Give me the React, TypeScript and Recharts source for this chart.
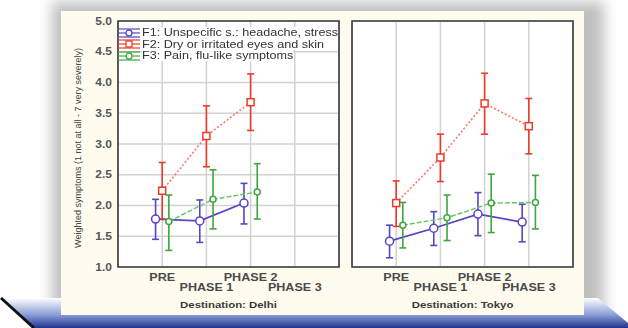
import React from "react";
import {
  ComposedChart,
  Line,
  XAxis,
  YAxis,
  CartesianGrid,
  ErrorBar,
  ReferenceArea,
  Legend,
} from "recharts";

const phases = ["PRE", "PHASE 1", "PHASE 2", "PHASE 3"];
const yTicks = [1.0, 1.5, 2.0, 2.5, 3.0, 3.5, 4.0, 4.5, 5.0];
const seriesNames = [
  "F1: Unspecific s.: headache, stress",
  "F2: Dry or irritated eyes and skin",
  "F3: Pain, flu-like symptoms",
];

// Delhi (no PHASE 3 measurement)
const delhiF1 = [1.78, 1.75, 2.04, null];
const delhiF1Low = [1.45, 1.4, 1.7, null];
const delhiF1High = [2.1, 2.09, 2.36, null];
const delhiF2 = [2.24, 3.13, 3.68, null];
const delhiF2Low = [1.78, 2.63, 3.22, null];
const delhiF2High = [2.7, 3.62, 4.14, null];
const delhiF3 = [1.74, 2.1, 2.22, null];
const delhiF3Low = [1.27, 1.62, 1.78, null];
const delhiF3High = [2.17, 2.58, 2.68, null];

// Tokyo
const tokyoF1 = [1.42, 1.63, 1.86, 1.73];
const tokyoF1Low = [1.15, 1.35, 1.51, 1.41];
const tokyoF1High = [1.68, 1.9, 2.21, 2.02];
const tokyoF2 = [2.04, 2.78, 3.66, 3.29];
const tokyoF2Low = [1.66, 2.39, 3.16, 2.84];
const tokyoF2High = [2.4, 3.16, 4.15, 3.74];
const tokyoF3 = [1.68, 1.8, 2.04, 2.05];
const tokyoF3Low = [1.31, 1.43, 1.56, 1.62];
const tokyoF3High = [2.05, 2.17, 2.51, 2.49];

const FONT = "'Liberation Sans', Arial, sans-serif";
const STRETCH = 1.2;

type Pt = { x: number; y: number; err: [number, number] };

function toPoints(
  mean: (number | null)[],
  low: (number | null)[],
  high: (number | null)[],
  shift: number
): Pt[] {
  const out: Pt[] = [];
  mean.forEach((v, i) => {
    if (v == null) return;
    out.push({
      x: i + 1 + shift,
      y: v,
      err: [+(v - (low[i] as number)).toFixed(2), +((high[i] as number) - v).toFixed(2)],
    });
  });
  return out;
}

const styles = [
  { color: "#5645c4", line: "#5645c4", dash: undefined, width: 1.8, shift: -0.15, marker: "circle", r: 4 },
  { color: "#ee3a28", line: "#ff7468", dash: "2 2", width: 1.6, shift: 0, marker: "square", r: 3.5 },
  { color: "#3ea63e", line: "#62c462", dash: "5 2", width: 1.4, shift: 0.15, marker: "circle", r: 3 },
];

function makeDot(s: (typeof styles)[number]) {
  return (p: any) => {
    const { cx, cy } = p;
    if (cx == null || cy == null) return <g key={`n-${p.index}`} />;
    if (s.marker === "square")
      return (
        <rect
          key={`d-${p.index}`}
          x={cx - s.r}
          y={cy - s.r}
          width={s.r * 2}
          height={s.r * 2}
          fill="#fff"
          stroke={s.color}
          strokeWidth={1.5}
        />
      );
    return <circle key={`d-${p.index}`} cx={cx} cy={cy} r={s.r} fill="#fff" stroke={s.color} strokeWidth={1.5} />;
  };
}

const PhaseTick = (props: any) => {
  const { x, y, payload } = props;
  const idx = Math.round(payload.value) - 1;
  const row = idx % 2;
  return (
    <text
      transform={`translate(${x} ${y + 14 + row * 10}) scale(${STRETCH} 1)`}
      textAnchor="middle"
      fontSize={10.5}
      fontWeight="bold"
      fontFamily={FONT}
      fill="#4a4a4a"
    >
      {phases[idx]}
    </text>
  );
};

const ValueTick = (props: any) => {
  const { x, y, payload } = props;
  return (
    <text
      transform={`translate(${x} ${y + 3.5}) scale(${STRETCH} 1)`}
      textAnchor="end"
      fontSize={10}
      fontWeight="bold"
      fontFamily={FONT}
      fill="#555"
    >
      {payload.value.toFixed(1)}
    </text>
  );
};

function LegendIcon({ s }: { s: (typeof styles)[number] }) {
  return (
    <svg width={22} height={10} style={{ display: "block" }}>
      <line x1={0} x2={22} y1={1} y2={1} stroke={s.color} strokeWidth={1.2} />
      <line x1={0} x2={22} y1={5} y2={5} stroke={s.color} strokeWidth={1.2} />
      <line x1={0} x2={22} y1={9} y2={9} stroke={s.color} strokeWidth={1.2} />
      {s.marker === "square" ? (
        <rect x={8} y={2} width={6} height={6} fill="#fff" stroke={s.color} strokeWidth={1.3} />
      ) : (
        <circle cx={11} cy={5} r={3} fill="#fff" stroke={s.color} strokeWidth={1.3} />
      )}
    </svg>
  );
}

function LegendBox() {
  return (
    <div style={{ fontFamily: FONT }}>
      {seriesNames.map((n, i) => (
        <div key={n} style={{ display: "flex", alignItems: "center", height: 11.5 }}>
          <LegendIcon s={styles[i]} />
          <span
            style={{
              fontSize: 10.5,
              color: "#333",
              marginLeft: 2,
              background: "#fff",
              lineHeight: "11px",
              display: "inline-block",
              transform: `scaleX(${STRETCH})`,
              transformOrigin: "left center",
              whiteSpace: "nowrap",
            }}
          >
            {n}
          </span>
        </div>
      ))}
    </div>
  );
}

type PanelProps = {
  title: string;
  series: Pt[][];
  left: number;
  width: number;
  showY: boolean;
};

function Panel({ title, series, left, width, showY }: PanelProps) {
  return (
    <div style={{ position: "absolute", left, top: 11, width, height: 304 }}>
      <ComposedChart
        width={width}
        height={304}
        margin={{ top: 10, right: showY ? 12 : 11, bottom: 18, left: showY ? 0 : 12 }}
      >
        <CartesianGrid stroke="#d2d2d2" strokeWidth={1.5} fill="#fff" />
        <XAxis
          type="number"
          dataKey="x"
          domain={[0, 5]}
          ticks={[1, 2, 3, 4]}
          axisLine={false}
          tickLine={false}
          tickSize={0}
          tickMargin={0}
          height={30}
          tick={<PhaseTick />}
          interval={0}
          label={{
            content: (p: any) => {
              const vb = p.viewBox;
              return (
                <text
                  transform={`translate(${vb.x + vb.width / 2} ${vb.y + 41}) scale(${STRETCH} 1)`}
                  textAnchor="middle"
                  fontSize={9.5}
                  fontWeight="bold"
                  fontFamily={FONT}
                  fill="#3a3a3a"
                >
                  {title}
                </text>
              );
            },
          }}
        />
        <YAxis
          type="number"
          domain={[1, 5]}
          ticks={yTicks}
          width={showY ? 57 : 0}
          axisLine={false}
          tickLine={false}
          tickSize={0}
          tickMargin={6}
          tick={showY ? <ValueTick /> : false}
          interval={0}
          label={
            showY
              ? {
                  content: (p: any) => {
                    const vb = p.viewBox;
                    const cx = vb.x + 18;
                    const cy = vb.y + vb.height / 2 + 4;
                    return (
                      <text
                        x={cx}
                        y={cy}
                        transform={`rotate(-90 ${cx} ${cy})`}
                        textAnchor="middle"
                        dominantBaseline="middle"
                        fontSize={9}
                        fontFamily={FONT}
                        fill="#444"
                      >
                        Weighted symptoms (1 not at all - 7 very severely)
                      </text>
                    );
                  },
                }
              : undefined
          }
        />
        <ReferenceArea x1={0} x2={5} y1={1} y2={5} fill="none" fillOpacity={0} stroke="#3a3a3a" strokeWidth={1.6} />
        {series.map((pts, i) => {
          const s = styles[i];
          return (
            <Line
              key={seriesNames[i]}
              name={seriesNames[i]}
              data={pts}
              dataKey="y"
              type="linear"
              stroke={s.line}
              strokeWidth={s.width}
              strokeDasharray={s.dash}
              dot={makeDot(s)}
              activeDot={false}
              isAnimationActive={false}
            >
              <ErrorBar dataKey="err" direction="y" width={3.5} stroke={s.color} strokeWidth={1.6} />
            </Line>
          );
        })}
        {showY && (
          <Legend
            layout="vertical"
            align="center"
            verticalAlign="middle"
            wrapperStyle={{ left: 57, top: 16, width: 240, height: 36 }}
            content={() => <LegendBox />}
          />
        )}
      </ComposedChart>
    </div>
  );
}

const delhiSeries = [
  toPoints(delhiF1, delhiF1Low, delhiF1High, styles[0].shift),
  toPoints(delhiF2, delhiF2Low, delhiF2High, styles[1].shift),
  toPoints(delhiF3, delhiF3Low, delhiF3High, styles[2].shift),
];
const tokyoSeries = [
  toPoints(tokyoF1, tokyoF1Low, tokyoF1High, styles[0].shift),
  toPoints(tokyoF2, tokyoF2Low, tokyoF2High, styles[1].shift),
  toPoints(tokyoF3, tokyoF3Low, tokyoF3High, styles[2].shift),
];

function Backdrop() {
  return (
    <svg width={628} height={328} style={{ position: "absolute", left: 0, top: 0 }}>
      <defs>
        <filter id="shadow" x="-10%" y="-20%" width="120%" height="140%">
          <feGaussianBlur stdDeviation="7" />
        </filter>
        <linearGradient id="floor" x1="0" y1="0" x2="0" y2="1">
          <stop offset="0" stopColor="#ffffff" />
          <stop offset="0.55" stopColor="#8c9fd8" />
          <stop offset="1" stopColor="#1f3390" />
        </linearGradient>
      </defs>
      <rect x={0} y={0} width={628} height={328} fill="#fff" />
      <rect x={52} y={2} width={552} height={318} fill="#8a8a8a" opacity={0.55} filter="url(#shadow)" />
      <polygon points="0,298 598,298 628,323 628,328 34,328" fill="url(#floor)" />
      <line x1={1} y1={298} x2={34} y2={328} stroke="#111" strokeWidth={3} />
      <rect x={61} y={11} width={523} height={304} fill="#fffcef" />
    </svg>
  );
}

export default function App() {
  return (
    <div
      style={{
        position: "absolute",
        left: 0,
        top: 0,
        width: 628,
        height: 328,
        overflow: "hidden",
        fontFamily: FONT,
      }}
    >
      <Backdrop />
      <Panel title="Destination: Delhi" series={delhiSeries} left={61} width={290} showY />
      <Panel title="Destination: Tokyo" series={tokyoSeries} left={340} width={244} showY={false} />
    </div>
  );
}
